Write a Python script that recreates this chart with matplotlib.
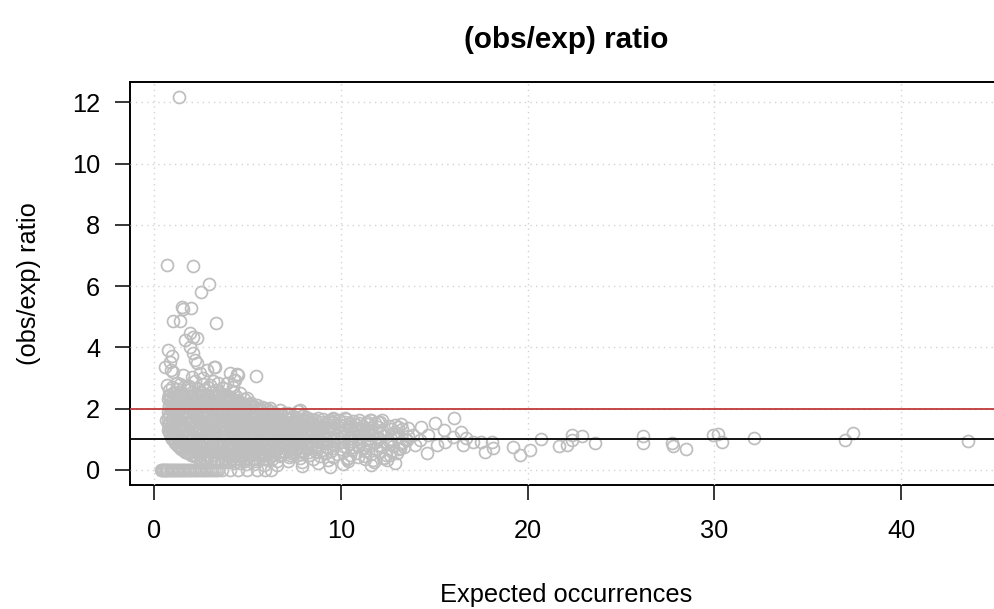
import numpy as np
import matplotlib
matplotlib.use("Agg")
import matplotlib.pyplot as plt

plt.rcParams['font.family'] = ['Liberation Sans', 'DejaVu Sans']

# ---------------- data ----------------
title = "(obs/exp) ratio"
x_label = "Expected occurrences"
y_label = "(obs/exp) ratio"
x_ticks = [0, 10, 20, 30, 40]
y_ticks = [0, 2, 4, 6, 8, 10, 12]
red_ref = 2.0
black_ref = 1.0

# expected values of features with 0 observed occurrences
obs0_exp = [0.36, 0.42, 0.48, 0.54, 0.6, 0.66, 0.72, 0.78, 0.85, 0.92, 0.99, 1.06,
            1.13, 1.2, 1.28, 1.36, 1.44, 1.52, 1.6, 1.68, 1.77, 1.86, 1.95, 2.04,
            2.13, 2.22, 2.31, 2.4, 2.5, 2.6, 2.7, 2.8, 2.9, 3.0, 3.1, 3.2, 3.3,
            3.42, 3.64, 4.07, 4.49, 4.98, 5.51, 5.94, 6.26]
# expected values grouped by observed count
obs1_exp = [0.76, 0.81, 0.86, 0.92, 0.98, 1.05, 1.13, 1.22, 1.32, 1.43, 1.55, 1.68,
            1.83, 1.98, 2.14, 2.31, 2.48, 2.66, 2.85, 3.03, 3.22, 3.4, 3.58, 3.8,
            4.05, 4.3, 4.6, 4.95, 5.35, 5.9, 6.6, 7.9, 9.4]
obs2_exp = [0.82, 0.85, 0.88, 0.915, 0.95, 0.99, 1.03, 1.08, 1.13, 1.19, 1.26, 1.33,
            1.41, 1.5, 1.6, 1.71, 1.82, 1.94, 2.07, 2.2, 2.34, 2.49, 2.64, 2.8,
            2.97, 3.14, 3.32, 3.5, 3.69, 3.88, 4.08, 4.28, 4.5, 4.72, 4.95, 5.3,
            5.65, 6.1, 6.6, 7.2, 7.9, 8.8, 10.1, 11.6]
obs3_exp = [1.22, 1.26, 1.31, 1.36, 1.42, 1.48, 1.55, 1.62, 1.7, 1.79, 1.88, 1.98,
            2.09, 2.2, 2.32, 2.45, 2.58, 2.72, 2.87, 3.02, 3.18, 3.35, 3.52, 3.7,
            3.89, 4.08, 4.28, 4.49, 4.7, 4.92, 5.15, 5.4, 5.65, 5.92, 6.3, 6.75,
            7.25, 7.8, 8.5, 9.3, 10.4, 11.8, 12.9]
obs4_exp = [1.63, 1.69, 1.76, 1.83, 1.91, 2.0, 2.09, 2.19, 2.3, 2.41, 2.53, 2.66,
            2.8, 2.94, 3.09, 3.24, 3.4, 3.57, 3.74, 3.92, 4.1, 4.29, 4.49, 4.69,
            4.9, 5.12, 5.35, 5.6, 5.85, 6.12, 6.4, 6.7, 7.0, 7.35, 7.8, 8.3, 8.9,
            9.6, 10.4, 11.3, 12.5]
obs5_exp = [2.04, 2.11, 2.19, 2.27, 2.36, 2.46, 2.56, 2.67, 2.79, 2.91, 3.04, 3.17,
            3.31, 3.46, 3.61, 3.77, 3.93, 4.1, 4.27, 4.45, 4.64, 4.83, 5.03, 5.24,
            5.46, 5.69, 5.92, 6.17, 6.43, 6.7, 6.98, 7.28, 7.6, 7.95, 8.3, 8.7,
            9.2, 9.8, 10.5, 11.3, 12.3]
obs6_exp = [2.45, 2.53, 2.62, 2.72, 2.82, 2.93, 3.04, 3.16, 3.28, 3.41, 3.55, 3.69,
            3.84, 3.99, 4.15, 4.32, 4.49, 4.67, 4.86, 5.05, 5.25, 5.46, 5.68, 5.9,
            6.14, 6.38, 6.64, 6.9, 7.2, 7.5, 7.85, 8.2, 8.6, 9.0, 9.5, 10.1, 10.8,
            11.6, 12.4]
obs7_exp = [2.86, 2.95, 3.05, 3.15, 3.26, 3.37, 3.49, 3.61, 3.74, 3.87, 4.01, 4.15,
            4.3, 4.46, 4.62, 4.79, 4.97, 5.15, 5.34, 5.54, 5.75, 5.97, 6.2, 6.44,
            6.69, 6.95, 7.22, 7.5, 7.8, 8.12, 8.45, 8.8, 9.2, 9.6, 10.0, 10.6,
            11.3, 12.1, 13.0]
obs8_exp = [3.27, 3.37, 3.48, 3.59, 3.71, 3.83, 3.96, 4.1, 4.24, 4.39, 4.54, 4.7,
            4.87, 5.05, 5.23, 5.42, 5.62, 5.83, 6.05, 6.3, 6.55, 6.82, 7.1, 7.4,
            7.72, 8.05, 8.4, 8.8, 9.2, 9.65, 10.1, 10.6, 11.2, 11.9, 12.7]
obs9_exp = [3.75, 3.86, 3.97, 4.09, 4.22, 4.35, 4.49, 4.63, 4.78, 4.94, 5.1, 5.27,
            5.45, 5.64, 5.84, 6.05, 6.27, 6.5, 6.75, 7.0, 7.28, 7.56, 7.86, 8.18,
            8.5, 8.85, 9.22, 9.6, 10.0, 10.45, 10.9, 11.5, 12.2, 13.1]
obs10_exp = [4.35, 4.47, 4.6, 4.74, 4.88, 5.03, 5.19, 5.36, 5.53, 5.71, 5.9, 6.1,
             6.31, 6.53, 6.76, 7.0, 7.26, 7.52, 7.8, 8.1, 8.4, 8.72, 9.05, 9.4,
             9.78, 10.15, 10.55, 11.0, 11.5, 12.1, 12.8, 13.4]
obs11_exp = [5.1, 5.24, 5.39, 5.55, 5.72, 5.9, 6.08, 6.28, 6.48, 6.7, 6.92, 7.16,
             7.4, 7.66, 7.93, 8.2, 8.5, 8.8, 9.12, 9.45, 9.8, 10.17, 10.55, 10.95,
             11.4, 11.9, 12.5, 13.2]
obs12_exp = [5.9, 6.06, 6.23, 6.41, 6.6, 6.8, 7.0, 7.22, 7.45, 7.68, 7.93, 8.18,
             8.45, 8.73, 9.02, 9.33, 9.65, 9.98, 10.33, 10.7, 11.1, 11.5, 12.0,
             12.6, 13.3]
obs13_exp = [7.0, 7.2, 7.42, 7.65, 7.9, 8.15, 8.42, 8.7, 9.0, 9.3, 9.62, 9.95, 10.3,
             10.68, 11.05, 11.45, 12.0, 12.7, 13.5]
obs14_exp = [7.9, 8.13, 8.38, 8.64, 8.92, 9.2, 9.5, 9.82, 10.15, 10.5, 10.86,
             11.25, 11.65, 12.3, 13.0]
obs15_exp = [8.8, 9.05, 9.32, 9.6, 9.9, 10.2, 10.52, 10.86, 11.2, 11.58, 12.1,
             12.8, 13.6]
obs16_exp = [9.6, 9.9, 10.2, 10.5, 10.85, 11.2, 11.6, 12.2, 12.9]
obs17_exp = [10.3, 10.65, 11.0, 11.4, 12.0, 12.7]
obs18_exp = [11.0, 11.4, 11.85, 12.6, 13.3]
obs19_exp = [11.6, 12.1, 12.9]
obs20_exp = [12.2, 13.2]

# dense core, read band by band: ratio level and the expected values along it
core_y = [2.40, 2.25, 2.10, 1.95, 1.80, 1.65, 1.50, 1.35, 1.20, 1.05, 0.90, 0.75,
          0.60, 0.48, 0.37, 0.28]
core_x = [
    [0.8, 1.12, 1.5, 1.83, 2.2, 2.55, 2.9, 3.25, 3.6, 3.95],
    [0.95, 1.3, 1.66, 2.0, 2.37, 2.72, 3.08, 3.42, 3.78, 4.15, 4.5],
    [0.8, 1.14, 1.48, 1.85, 2.2, 2.55, 2.92, 3.26, 3.62, 3.97, 4.33, 4.7, 5.1],
    [0.96, 1.3, 1.66, 2.03, 2.38, 2.74, 3.1, 3.45, 3.8, 4.16, 4.52, 4.9, 5.3, 5.75],
    [0.8, 1.14, 1.5, 1.86, 2.2, 2.57, 2.92, 3.28, 3.63, 4.0, 4.35, 4.72, 5.1, 5.5,
     5.95, 6.4],
    [0.96, 1.32, 1.68, 2.04, 2.4, 2.75, 3.12, 3.47, 3.83, 4.2, 4.56, 4.93, 5.32,
     5.72, 6.15, 6.6, 7.1],
    [0.8, 1.15, 1.5, 1.87, 2.22, 2.58, 2.95, 3.3, 3.66, 4.03, 4.4, 4.77, 5.15, 5.55,
     5.95, 6.4, 6.85, 7.35, 7.9],
    [0.97, 1.33, 1.69, 2.05, 2.41, 2.78, 3.14, 3.5, 3.86, 4.22, 4.6, 4.98, 5.36,
     5.75, 6.17, 6.62, 7.1, 7.6, 8.15, 8.7],
    [0.86, 1.16, 1.52, 1.88, 2.24, 2.6, 2.96, 3.33, 3.7, 4.06, 4.42, 4.8, 5.18, 5.57,
     5.97, 6.4, 6.85, 7.33, 7.85, 8.4, 9.0],
    [1.0, 1.35, 1.71, 2.07, 2.43, 2.8, 3.16, 3.53, 3.9, 4.26, 4.63, 5.0, 5.4, 5.8,
     6.22, 6.66, 7.12, 7.6, 8.1, 8.65, 9.2],
    [1.16, 1.53, 1.9, 2.26, 2.62, 2.98, 3.35, 3.72, 4.08, 4.45, 4.83, 5.2, 5.6, 6.02,
     6.45, 6.9, 7.37, 7.86, 8.4, 8.95],
    [1.4, 1.72, 2.08, 2.45, 2.82, 3.18, 3.55, 3.92, 4.3, 4.67, 5.05, 5.45, 5.85,
     6.27, 6.7, 7.15, 7.62, 8.12, 8.65],
    [1.72, 1.95, 2.28, 2.64, 3.0, 3.37, 3.74, 4.11, 4.48, 4.87, 5.26, 5.66, 6.08,
     6.5, 6.95, 7.42, 7.9],
    [2.15, 2.47, 2.83, 3.2, 3.57, 3.94, 4.32, 4.7, 5.1, 5.5, 5.92, 6.35, 6.8, 7.3],
    [2.75, 3.05, 3.4, 3.78, 4.15, 4.55, 4.95, 5.4, 5.85, 6.3],
    [3.6, 4.0, 4.45, 4.9, 5.4],
]

# individually read points (expected, ratio)
edge_x = [0.77, 0.78, 0.76, 0.79, 0.77, 0.8, 0.62, 0.9, 0.95, 1.0, 1.1, 1.15, 1.3,
          0.88, 1.2, 1.05, 1.4, 1.6, 1.85, 2.1, 2.45, 2.8, 1.12, 1.35]
edge_y = [1.5, 1.7, 1.9, 2.1, 2.3, 2.45, 1.62, 1.45, 1.3, 1.3, 1.4, 1.15, 1.05,
          1.6, 1.25, 1.55, 0.95, 0.85, 0.75, 0.68, 0.58, 0.5, 1.85, 2.1]
fringe_x = [0.8, 0.95, 1.1, 1.25, 1.4, 1.45, 1.6, 1.75, 1.9, 2.05, 2.2, 2.35, 2.5,
            2.6, 2.75, 2.9, 3.05, 3.15, 3.3, 3.5, 3.7, 3.85, 4.0, 4.25, 4.4, 4.6,
            4.8, 4.96, 5.2, 5.5, 5.8, 6.2, 6.74, 7.2, 7.72, 7.8, 8.26, 8.17, 8.44,
            9.42, 9.6, 10.2, 11.56, 12.0, 1.21, 0.68, 1.75, 3.0, 3.71, 4.24, 3.44,
            2.64, 2.02, 2.46, 1.03, 1.57, 4.51, 4.07, 3.26, 2.28, 0.86, 4.33, 4.78,
            10.31, 10.93, 11.73, 12.27, 12.63, 13.16]
fringe_y = [2.6, 2.7, 2.55, 2.65, 2.8, 2.55, 2.7, 2.6, 2.75, 2.55, 2.9, 2.65, 2.55,
            2.8, 2.6, 2.7, 2.55, 2.9, 2.6, 2.5, 2.66, 2.45, 2.35, 2.55, 2.4, 2.5,
            2.3, 2.34, 2.2, 2.12, 2.05, 2.01, 1.96, 1.85, 1.94, 1.96, 1.63, 1.52,
            1.58, 1.63, 1.69, 1.69, 1.63, 1.58, 2.83, 2.77, 2.72, 2.77, 2.66, 2.72,
            2.83, 2.99, 3.04, 3.15, 3.2, 3.1, 3.1, 3.15, 3.37, 3.48, 3.53, 2.94, 2.18,
            0.35, 0.43, 0.33, 0.38, 0.49, 0.71]
outlier_x = [1.35, 0.71, 2.07, 2.94, 2.53, 1.48, 1.53, 2.0, 1.0, 1.39, 3.32, 1.93,
             2.1, 2.28, 1.66, 0.77, 0.95, 1.93, 2.1, 2.19, 0.59, 0.91, 3.23, 2.82,
             4.42, 4.28, 5.46, 3.89]
outlier_y = [12.16, 6.68, 6.66, 6.07, 5.82, 5.31, 5.24, 5.3, 4.87, 4.86, 4.78, 4.46,
             4.35, 4.3, 4.24, 3.92, 3.72, 4.02, 3.81, 3.59, 3.37, 3.26, 3.37, 3.26,
             3.13, 2.94, 3.07, 2.83]
far_x = [13.07, 13.6, 14.32, 13.87, 14.23, 14.68, 15.13, 15.57, 14.59, 13.96, 13.52,
         16.05, 15.03, 16.46, 15.5, 16.0, 16.55, 16.7, 17.1, 17.5, 18.07, 17.7,
         18.15, 19.22, 19.6, 20.1, 20.7, 21.7, 22.1, 22.35, 22.4, 22.9, 23.6, 26.2,
         26.2, 27.7, 27.8, 28.5, 29.9, 30.2, 30.4, 32.1, 36.97, 37.4, 43.57]
far_y = [1.41, 1.36, 1.41, 1.14, 0.98, 1.14, 0.82, 0.92, 0.54, 0.82, 0.98, 1.69,
         1.54, 1.25, 1.3, 1.09, 0.82, 1.03, 0.92, 0.92, 0.92, 0.6, 0.71, 0.74, 0.49,
         0.65, 1.01, 0.78, 0.82, 1.14, 0.98, 1.11, 0.89, 1.12, 0.87, 0.89, 0.78,
         0.67, 1.14, 1.16, 0.9, 1.03, 0.98, 1.22, 0.95]

# ---------------- assemble ----------------
groups = [obs0_exp, obs1_exp, obs2_exp, obs3_exp, obs4_exp, obs5_exp, obs6_exp,
          obs7_exp, obs8_exp, obs9_exp, obs10_exp, obs11_exp, obs12_exp, obs13_exp,
          obs14_exp, obs15_exp, obs16_exp, obs17_exp, obs18_exp, obs19_exp, obs20_exp]
xs, ys = [], []
for k, g in enumerate(groups):
    e = np.asarray(g, dtype=float)
    xs.append(e)
    ys.append(k / e)
for level, row in zip(core_y, core_x):
    xs.append(np.asarray(row, dtype=float))
    ys.append(np.full(len(row), level))
for gx, gy in [(edge_x, edge_y), (fringe_x, fringe_y), (outlier_x, outlier_y), (far_x, far_y)]:
    xs.append(np.asarray(gx, dtype=float))
    ys.append(np.asarray(gy, dtype=float))
X = np.concatenate(xs)
Y = np.concatenate(ys)

# ---------------- plot ----------------
W, H = 994, 609
fig = plt.figure(figsize=(W / 100, H / 100), dpi=100)
left, right, top, bottom = 130, 1003, 82, 485
ax = fig.add_axes([left / W, 1 - bottom / H, (right - left) / W, (bottom - top) / H])

ax.plot(X, Y, linestyle='none', marker='o', ms=8.6, mfc='none', mec='#BEBEBE',
        mew=1.25, zorder=2, clip_on=True)

for xt in x_ticks:
    ax.axvline(xt, color='#D3D3D3', lw=1.0, ls=(0, (1, 3)), zorder=3)
for yt in y_ticks:
    ax.axhline(yt, color='#D3D3D3', lw=1.0, ls=(0, (1, 3)), zorder=3)

ax.axhline(red_ref, color='#C03A3A', lw=1.3, zorder=4)
ax.axhline(black_ref, color='black', lw=1.3, zorder=4)

ax.set_xlim(-1.28, 45.44)
ax.set_ylim(-0.49, 12.66)
ax.set_xticks(x_ticks)
ax.set_yticks(y_ticks)
ax.tick_params(axis='both', direction='out', length=10.5, width=1.1, labelsize=18.3,
               color='black')
ax.tick_params(axis='x', pad=14)
ax.tick_params(axis='y', pad=11)
for s in ax.spines.values():
    s.set_linewidth(1.4)

ax.set_xlabel(x_label, fontsize=18.3, labelpad=29)
ax.set_ylabel(y_label, fontsize=18.3, labelpad=22)
fig.text(566 / W, 1 - 40 / H, title, ha='center', va='center', fontsize=21.3,
         fontweight='bold')

fig.savefig('out.png', dpi=100)
